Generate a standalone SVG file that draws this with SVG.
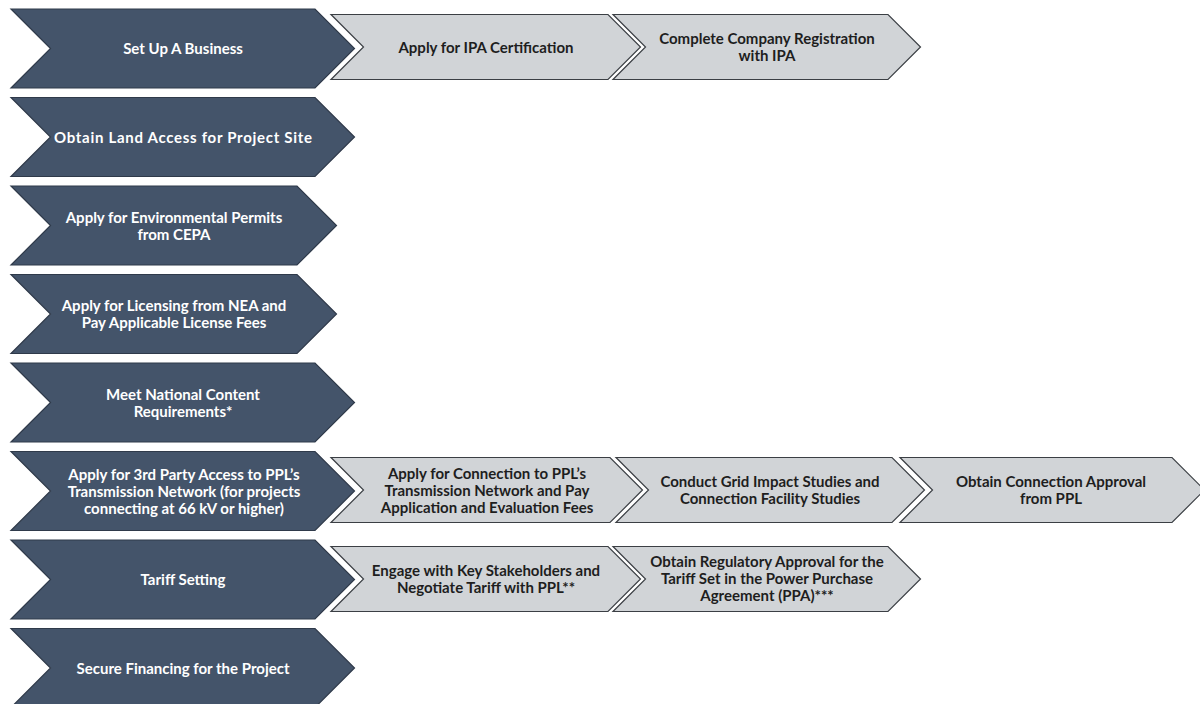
<svg xmlns="http://www.w3.org/2000/svg" width="1200" height="704" viewBox="0 0 1200 704">
  <style>
    .main { fill: #44546a; stroke: #2f3a4a; stroke-width: 1.2; }
    .step { fill: #d1d4d7; stroke: #3b3f44; stroke-width: 1.2; }
    .mt { font-family: Lato, "Open Sans", sans-serif; font-weight: bold; font-size: 15px; fill: #ffffff; text-anchor: middle; dominant-baseline: middle; }
    .st { font-family: Lato, "Open Sans", sans-serif; font-weight: bold; font-size: 15px; fill: #1e1e1e; text-anchor: middle; dominant-baseline: middle; }
  </style>
  <rect width="1200" height="704" fill="#ffffff"/>

  <!-- main phases (dark chevrons) -->
  <g id="phase-business">
    <path class="main" d="M11,9 H315 L354.5,48.5 L315,88 H11 L50.5,48.5 Z"/>
    <text class="mt" x="183" y="50.5">Set Up A Business</text>
  </g>
  <g id="phase-land">
    <path class="main" d="M11,97.5 H315 L354.5,137 L315,176.5 H11 L50.5,137 Z"/>
    <text class="mt" x="183" y="139" textLength="258" lengthAdjust="spacing">Obtain Land Access for Project Site</text>
  </g>
  <g id="phase-environment">
    <path class="main" d="M11,186 H297 L336.5,225.5 L297,265 H11 L50.5,225.5 Z"/>
    <text class="mt" x="174" y="219">Apply for Environmental Permits</text>
    <text class="mt" x="174" y="236">from CEPA</text>
  </g>
  <g id="phase-licensing">
    <path class="main" d="M11,274.5 H297 L336.5,314 L297,353.5 H11 L50.5,314 Z"/>
    <text class="mt" x="174" y="307.5">Apply for Licensing from NEA and</text>
    <text class="mt" x="174" y="324.5">Pay Applicable License Fees</text>
  </g>
  <g id="phase-content">
    <path class="main" d="M11,363 H315 L354.5,402.5 L315,442 H11 L50.5,402.5 Z"/>
    <text class="mt" x="183" y="396">Meet National Content</text>
    <text class="mt" x="183" y="413">Requirements*</text>
  </g>
  <g id="phase-access">
    <path class="main" d="M11,451.5 H315 L354.5,491 L315,530.5 H11 L50.5,491 Z"/>
    <text class="mt" x="184" y="476">Apply for 3rd Party Access to PPL’s</text>
    <text class="mt" x="184" y="493">Transmission  Network (for projects</text>
    <text class="mt" x="184" y="510">connecting at 66 kV or higher)</text>
  </g>
  <g id="phase-tariff">
    <path class="main" d="M11,540 H315 L354.5,579.5 L315,619 H11 L50.5,579.5 Z"/>
    <text class="mt" x="183" y="581.5">Tariff Setting</text>
  </g>
  <g id="phase-financing">
    <path class="main" d="M11,628.5 H315 L354.5,668 L315,707.5 H11 L50.5,668 Z"/>
    <text class="mt" x="183" y="670">Secure Financing for the Project</text>
  </g>

  <!-- sub-steps (light chevrons) -->
  <g id="step-ipa-cert">
    <path class="step" d="M331,14.5 H608 L640.5,47 L608,79.5 H331 L363.5,47 Z"/>
    <text class="st" x="486" y="49">Apply for IPA Certification</text>
  </g>
  <g id="step-ipa-reg">
    <path class="step" d="M613,14.5 H888 L920.5,47 L888,79.5 H613 L645.5,47 Z"/>
    <text class="st" x="767" y="40.5">Complete Company Registration</text>
    <text class="st" x="767" y="57.5">with IPA</text>
  </g>
  <g id="step-connection-apply">
    <path class="step" d="M331,457.5 H610 L642.5,490 L610,522.5 H331 L363.5,490 Z"/>
    <text class="st" x="487" y="475">Apply for Connection to PPL’s</text>
    <text class="st" x="487" y="492">Transmission Network and Pay</text>
    <text class="st" x="487" y="509">Application and Evaluation Fees</text>
  </g>
  <g id="step-grid-studies">
    <path class="step" d="M616,457.5 H892 L924.5,490 L892,522.5 H616 L648.5,490 Z"/>
    <text class="st" x="770" y="483.5">Conduct Grid Impact Studies and</text>
    <text class="st" x="770" y="500.5">Connection Facility Studies</text>
  </g>
  <g id="step-connection-approval">
    <path class="step" d="M900,457.5 H1172 L1204.5,490 L1172,522.5 H900 L932.5,490 Z"/>
    <text class="st" x="1051" y="483.5">Obtain Connection Approval</text>
    <text class="st" x="1051" y="500.5">from PPL</text>
  </g>
  <g id="step-negotiate">
    <path class="step" d="M331,546.5 H608 L640.5,579 L608,611.5 H331 L363.5,579 Z"/>
    <text class="st" x="486" y="572.5">Engage with Key Stakeholders and</text>
    <text class="st" x="486" y="589.5">Negotiate Tariff  with PPL**</text>
  </g>
  <g id="step-ppa-approval">
    <path class="step" d="M613,546.5 H888 L920.5,579 L888,611.5 H613 L645.5,579 Z"/>
    <text class="st" x="767" y="563.5">Obtain Regulatory Approval for the</text>
    <text class="st" x="767" y="580.5">Tariff Set in the Power Purchase</text>
    <text class="st" x="767" y="597.5">Agreement (PPA)***</text>
  </g>

  <!-- the steps sit side by side; no linking lines are drawn -->
  <g id="connectors"/>
</svg>
